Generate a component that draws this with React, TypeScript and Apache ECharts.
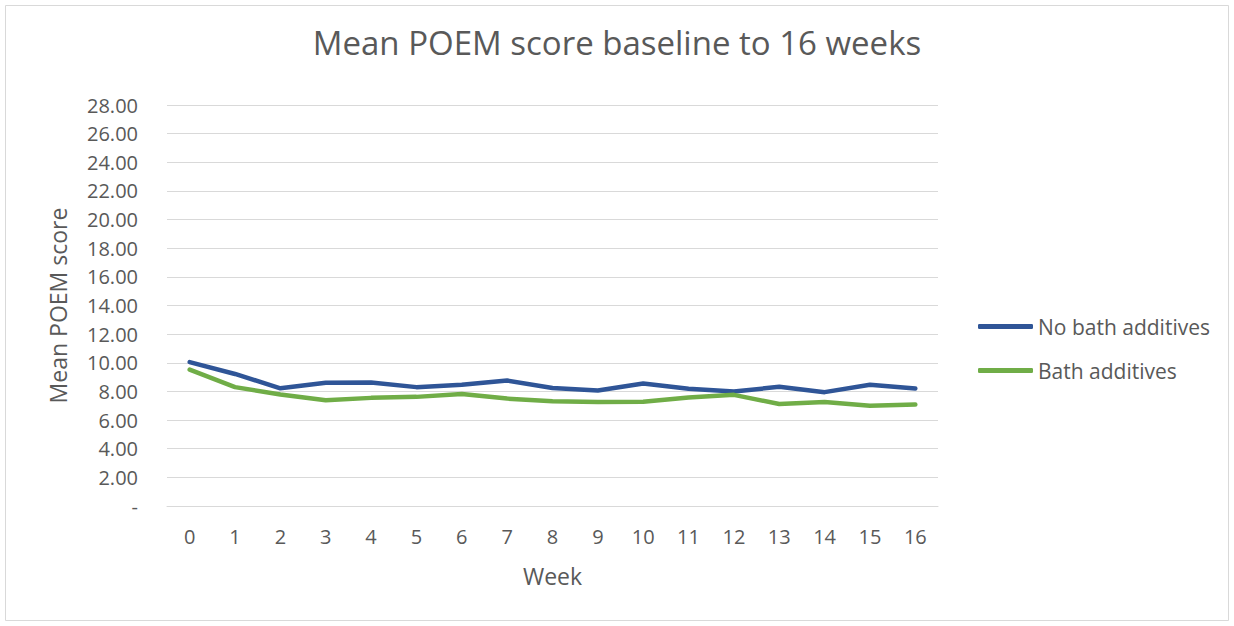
import React, { useEffect, useRef } from "react";
import * as echarts from "echarts";

const weeks = ["0", "1", "2", "3", "4", "5", "6", "7", "8", "9", "10", "11", "12", "13", "14", "15", "16"];
const noBathAdditives = [10.05, 9.22, 8.22, 8.6, 8.62, 8.3, 8.46, 8.76, 8.24, 8.07, 8.56, 8.18, 8.0, 8.32, 7.95, 8.47, 8.2];
const bathAdditives = [9.52, 8.3, 7.78, 7.39, 7.55, 7.62, 7.82, 7.5, 7.31, 7.27, 7.28, 7.58, 7.76, 7.12, 7.26, 7.0, 7.08];
const seriesNames = ["No bath additives", "Bath additives"];
const titleText = "Mean POEM score baseline to 16 weeks";

const FONT = "'Open Sans', sans-serif";
const TXT = "#595959";

export default function App() {
  const ref = useRef<HTMLDivElement>(null);
  useEffect(() => {
    document.body.style.margin = "0";
    const chart = echarts.init(ref.current!, null, { renderer: "svg" });
    chart.setOption({
      animation: false,
      backgroundColor: "#ffffff",
      textStyle: { fontFamily: FONT, color: TXT },
      title: {
        text: titleText,
        left: "center",
        top: 26,
        padding: 0,
        textStyle: { fontFamily: FONT, fontSize: 33, fontWeight: "normal", color: TXT },
      },
      graphic: [
        {
          type: "rect",
          shape: { x: 5.5, y: 5.5, width: 1223, height: 615 },
          style: { fill: "none", stroke: "#d9d9d9", lineWidth: 1 },
          silent: true,
        },
      ],
      legend: {
        orient: "vertical",
        left: 978,
        top: 316,
        padding: 0,
        itemWidth: 55,
        itemHeight: 5,
        itemGap: 23,
        icon: "roundRect",
        textStyle: { fontFamily: FONT, fontSize: 21, color: TXT, padding: [0, 0, 0, 0] },
        data: seriesNames,
      },
      grid: { left: 167, right: 296, top: 105, bottom: 120, containLabel: false },
      xAxis: {
        type: "category",
        data: weeks,
        boundaryGap: true,
        name: "Week",
        nameLocation: "middle",
        nameGap: 58,
        nameTextStyle: { fontFamily: FONT, fontSize: 23, color: TXT },
        axisLine: { show: true, lineStyle: { color: "#d9d9d9", width: 1 } },
        axisTick: { show: false },
        axisLabel: { fontFamily: FONT, fontSize: 20, color: TXT, margin: 20 },
      },
      yAxis: {
        type: "value",
        min: 0,
        max: 28,
        interval: 2,
        name: "Mean POEM score",
        nameLocation: "middle",
        nameGap: 98,
        nameTextStyle: { fontFamily: FONT, fontSize: 23, color: TXT },
        axisLine: { show: false },
        axisTick: { show: false },
        splitLine: { lineStyle: { color: "#d9d9d9", width: 1 } },
        axisLabel: {
          fontFamily: FONT,
          fontSize: 20,
          color: TXT,
          margin: 29,
          formatter: (v: number) => (v === 0 ? "-" : v.toFixed(2)),
        },
      },
      series: [
        {
          name: seriesNames[0],
          type: "line",
          data: noBathAdditives,
          symbol: "none",
          lineStyle: { color: "#2F5597", width: 4.5, cap: "round", join: "round" },
          itemStyle: { color: "#2F5597" },
        },
        {
          name: seriesNames[1],
          type: "line",
          data: bathAdditives,
          symbol: "none",
          lineStyle: { color: "#70AD47", width: 4.5, cap: "round", join: "round" },
          itemStyle: { color: "#70AD47" },
        },
      ],
    });
    return () => chart.dispose();
  }, []);
  return <div ref={ref} style={{ width: 1234, height: 626 }} />;
}
